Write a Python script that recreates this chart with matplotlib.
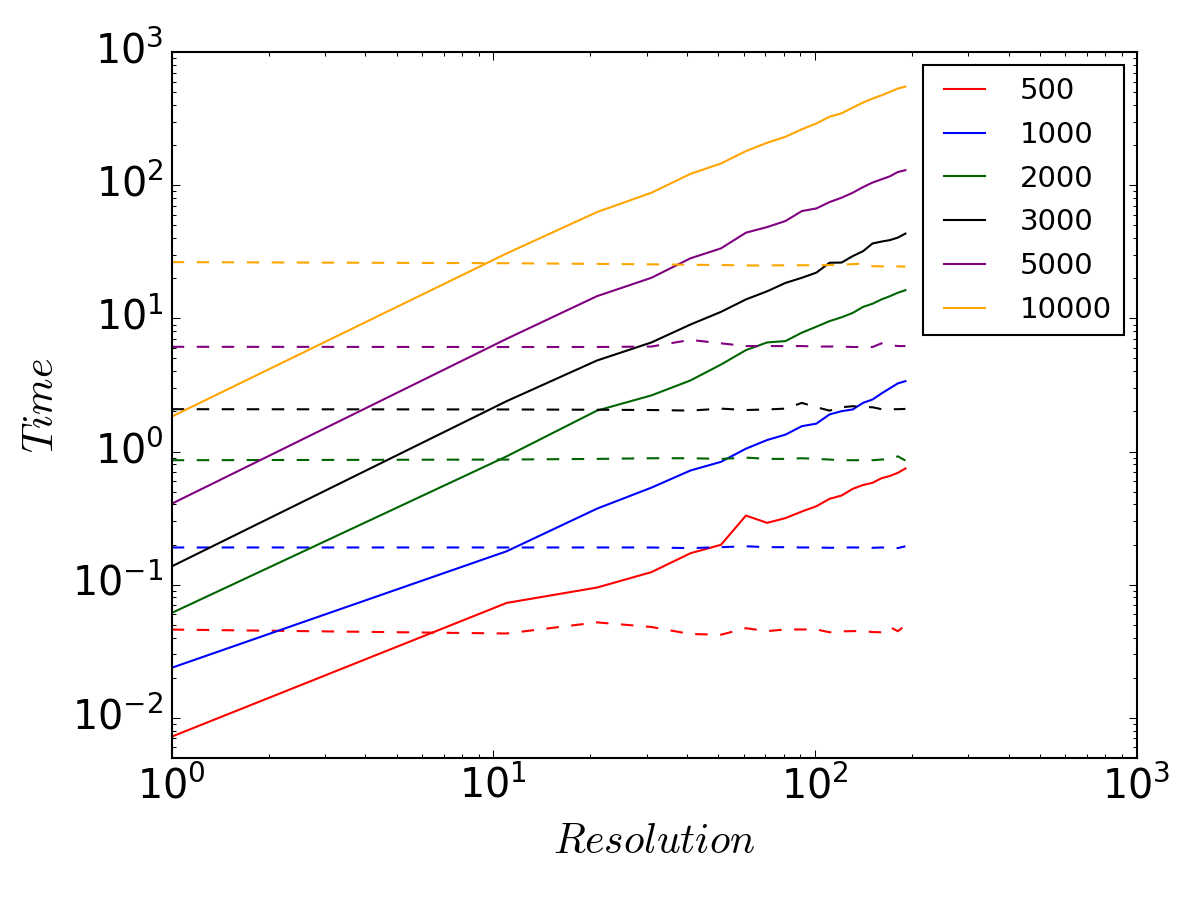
import matplotlib
matplotlib.use("Agg")
import matplotlib.pyplot as plt

plt.style.use("classic")

# resolution steps
res = [1, 11, 21, 31, 41, 51, 61, 71, 81, 91, 101, 111, 121, 131, 141, 151, 161, 171, 181, 191]

# solid lines (time grows with resolution)
t500 = [0.0072, 0.0728, 0.095, 0.124, 0.172, 0.199, 0.330, 0.291, 0.316, 0.354,
        0.388, 0.441, 0.467, 0.524, 0.560, 0.582, 0.630, 0.655, 0.692, 0.745]
t1000 = [0.0237, 0.178, 0.372, 0.535, 0.72, 0.836, 1.05, 1.22, 1.34, 1.55,
         1.62, 1.90, 2.01, 2.07, 2.32, 2.46, 2.73, 2.99, 3.25, 3.38]
t2000 = [0.0612, 0.92, 2.03, 2.64, 3.42, 4.5, 5.78, 6.6, 6.76, 7.82,
         8.67, 9.55, 10.2, 11.0, 12.2, 12.9, 13.9, 14.7, 15.6, 16.3]
t3000 = [0.137, 2.39, 4.83, 6.6, 9.0, 11.2, 13.9, 16.0, 18.5, 20.2,
         22.1, 26.2, 26.3, 29.4, 32.0, 36.6, 37.8, 38.8, 40.5, 43.4]
t5000 = [0.405, 7.03, 14.7, 20.2, 28.3, 33.6, 44.1, 48.6, 54.0, 64.1,
         67.1, 74.9, 80.8, 88.0, 97.0, 105.0, 111.0, 117.0, 126.0, 130.0]
t10000 = [1.83, 30.8, 63.0, 88.0, 122.0, 146.0, 181.0, 209.0, 232.0, 264.0,
          292.0, 328.0, 348.0, 384.0, 419.0, 449.0, 475.0, 504.0, 534.0, 552.0]

# dashed lines (roughly constant)
d500 = [0.0459, 0.0429, 0.052, 0.048, 0.0425, 0.042, 0.047, 0.0447, 0.046, 0.046,
        0.046, 0.0438, 0.0445, 0.0447, 0.0447, 0.044, 0.0438, 0.048, 0.0446, 0.0495]
d1000 = [0.19, 0.19, 0.19, 0.19, 0.188, 0.191, 0.194, 0.191, 0.191, 0.19,
         0.19, 0.189, 0.19, 0.19, 0.19, 0.189, 0.19, 0.19, 0.188, 0.194]
d2000 = [0.86, 0.87, 0.88, 0.89, 0.89, 0.88, 0.90, 0.88, 0.88, 0.89,
         0.88, 0.87, 0.86, 0.86, 0.86, 0.86, 0.87, 0.88, 0.92, 0.855]
d3000 = [2.08, 2.07, 2.06, 2.05, 2.03, 2.10, 2.05, 2.07, 2.10, 2.32,
         2.15, 2.03, 2.15, 2.19, 2.16, 2.15, 2.08, 2.08, 2.08, 2.09]
d5000 = [6.12, 6.1, 6.1, 6.15, 6.9, 6.5, 6.2, 6.2, 6.2, 6.2,
         6.15, 6.15, 6.15, 6.1, 6.1, 6.1, 6.5, 6.3, 6.2, 6.2]
d10000 = [26.5, 26.0, 25.7, 25.5, 25.3, 25.2, 25.0, 25.0, 25.1, 25.1,
          25.1, 25.2, 25.3, 25.6, 25.8, 24.7, 24.6, 24.6, 24.6, 24.5]

labels = ["500", "1000", "2000", "3000", "5000", "10000"]
colors = ["red", "blue", "#006400", "black", "purple", "orange"]
solid = [t500, t1000, t2000, t3000, t5000, t10000]
dashed = [d500, d1000, d2000, d3000, d5000, d10000]

fig = plt.figure(figsize=(8, 6), dpi=150, facecolor="white")
ax = fig.add_axes([0.1431, 0.1581, 0.9472 - 0.1431, 0.9419 - 0.1581])

for lab, c, s, d in zip(labels, colors, solid, dashed):
    ax.plot(res, s, color=c, lw=1.0, label=lab)
    ax.plot(res, d, color=c, lw=1.0, ls="--")

ax.set_xscale("log")
ax.set_yscale("log")
ax.set_xlim(1, 1000)
ax.set_ylim(0.005, 1000)

ax.tick_params(axis="both", which="major", labelsize=19)
ax.set_xlabel("$Resolution$", fontsize=20, math_fontfamily="cm", labelpad=6)
ax.set_ylabel("$Time$", fontsize=20, math_fontfamily="cm")

ax.legend(loc="upper right", fontsize=14, frameon=True, borderpad=0.4,
          handletextpad=0.9, labelspacing=0.54, borderaxespad=0.45)

fig.savefig("out.png", dpi=150, facecolor="white")
